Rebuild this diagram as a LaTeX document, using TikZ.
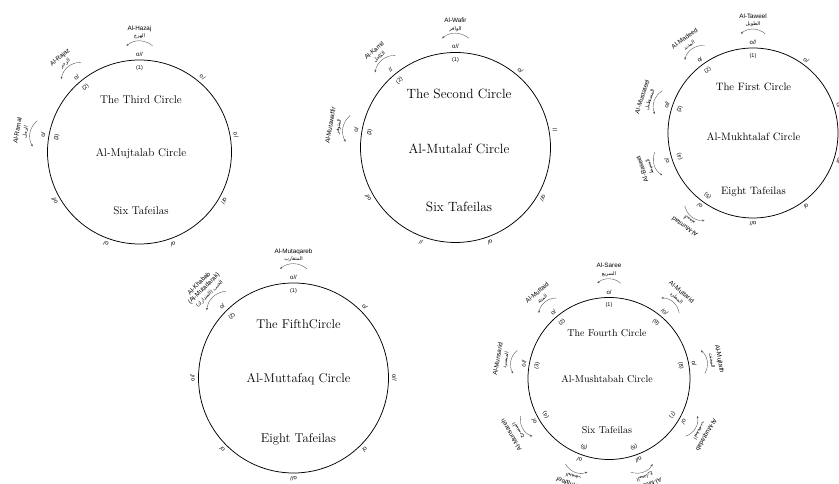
\documentclass[tikz,border=0pt]{standalone}
\usepackage{fontspec}
\newfontfamily\labelfont{Liberation Sans}
\newfontfamily\arabicfont[Script=Arabic]{DejaVu Sans}
\TeXXeTstate=1
\usetikzlibrary{arrows.meta}
\tikzset{>={Stealth[length=2.4pt,width=2pt]}}
\tikzset{
  daira/.style={draw, circle, line width=0.75pt, inner sep=0pt, minimum size=#1},
  title/.style={font=\fontsize{#1}{#1}\selectfont, inner sep=0pt},
  foot/.style={font=\labelfont\fontsize{6}{6}\selectfont, inner sep=0pt},
  num/.style={font=\labelfont\fontsize{5.5}{6}\selectfont, inner sep=0pt},
  bahr/.style={font=\labelfont\fontsize{6.3}{6.8}\selectfont, align=center,
    inner sep=0pt, anchor=south},
  turn/.style={->, draw=black!70, line width=0.35pt},
}
% the marks as they read on the page
\newcommand{\sabab}{o/}
\newcommand{\watad}{o//}
\newcommand{\twomov}{//}
\newcommand{\mafruq}{/o/}
% one meter: circle, radius, angle, number, English, Arabic
\newcommand{\bahrlabel}[6]{%
  \node[num, rotate=#3-90] (#1-n#4) at ({#3}:{#2-8}) {(#4)};
  \draw[turn] ({#3-7}:{#2+15}) to[bend right=40] ({#3+7}:{#2+15});
  \node[bahr, rotate=#3-90] (#1-b#4) at ({#3}:{#2+21})
    {#5\\[0.6pt]{\arabicfont\fontsize{5}{6}\selectfont #6}};%
}

\begin{document}
\begin{tikzpicture}[x=1pt, y=1pt]
  \useasboundingbox (0,0) rectangle (839,484);

  % the third circle
  \node[daira=184pt] (third) at (139.5,332) {};
  \begin{scope}[shift={(third.center)}]
    \foreach \a/\m [count=\i] in {90/\watad, 130/\sabab, 170/\sabab, 210/\watad,
      250/\sabab, 290/\sabab, 330/\watad, 10/\sabab, 50/\sabab}
      \node[foot, rotate=\a-90] (third-f\i) at (\a:98) {\m};
    \bahrlabel{third}{92}{90}{1}{Al-Hazaj}{\beginR الهزج\endR}
    \bahrlabel{third}{92}{130}{2}{Al-Rajaz}{\beginR الرجز\endR}
    \bahrlabel{third}{92}{170}{3}{Al-Ramal}{\beginR الرمل\endR}
    \node[title=11.2] (third-t1) at (1.5,52) {The Third Circle};
    \node[title=11.2] (third-t2) at (1.5,-2) {Al-Mujtalab Circle};
    \node[title=11.2] (third-t3) at (1.5,-59) {Six Tafeilas};
  \end{scope}

  % the second circle
  \node[daira=190pt] (second) at (455.5,336.5) {};
  \begin{scope}[shift={(second.center)}]
    \foreach \a/\m [count=\i] in {90/\watad, 130/\twomov, 170/\sabab, 210/\watad,
      250/\twomov, 290/\sabab, 330/\watad, 10/\twomov, 50/\sabab}
      \node[foot, rotate=\a-90] (second-f\i) at (\a:101) {\m};
    \bahrlabel{second}{95}{90}{1}{Al-Wafir}{\beginR الوافر\endR}
    \bahrlabel{second}{95}{130}{2}{Al-Kamil}{\beginR الكامل\endR}
    \bahrlabel{second}{95}{170}{3}{Al-Mutawaffir}{\beginR المتوفر\endR}
    \node[title=13.4] (second-t1) at (3.5,54) {The Second Circle};
    \node[title=13.4] (second-t2) at (3.5,-1) {Al-Mutalaf Circle};
    \node[title=13.4] (second-t3) at (3.5,-59) {Six Tafeilas};
  \end{scope}

  % the first circle
  \node[daira=170pt] (first) at (753,351) {};
  \begin{scope}[shift={(first.center)}]
    \foreach \a/\m [count=\i] in {90/\watad, 126/\sabab, 162/\watad, 198/\sabab,
      234/\sabab, 270/\watad, 306/\sabab, 342/\watad, 18/\sabab, 54/\sabab}
      \node[foot, rotate=\a-90] (first-f\i) at (\a:90.5) {\m};
    \bahrlabel{first}{85}{90}{1}{Al-Taweel}{\beginR الطويل\endR}
    \bahrlabel{first}{85}{126}{2}{Al-Madeed}{\beginR المديد\endR}
    \bahrlabel{first}{85}{162}{3}{Al-Mustateel}{\beginR المستطيل\endR}
    \bahrlabel{first}{85}{198}{4}{Al-Baseet}{\beginR البسيط\endR}
    \bahrlabel{first}{85}{234}{5}{Al-Mumtad}{\beginR الممتد\endR}
    \node[title=10.7] (first-t1) at (0.5,46) {The First Circle};
    \node[title=10.7] (first-t2) at (0.5,-4) {Al-Mukhtalaf Circle};
    \node[title=10.7] (first-t3) at (0.5,-59) {Eight Tafeilas};
  \end{scope}

  % the fifth circle
  \node[daira=190pt] (fifth) at (293.5,106) {};
  \begin{scope}[shift={(fifth.center)}]
    \foreach \a/\m [count=\i] in {90/\watad, 135/\sabab, 180/\watad, 225/\sabab,
      270/\watad, 315/\sabab, 0/\watad, 45/\sabab}
      \node[foot, rotate=\a-90] (fifth-f\i) at (\a:101) {\m};
    \bahrlabel{fifth}{95}{90}{1}{Al-Mutaqareb}{\beginR المتقارب\endR}
    \bahrlabel{fifth}{95}{135}{2}{Al-Khabab\\(Al-Mutadarak)}{\beginR الخبب (المتدارك)\endR}
    \node[title=12.7] (fifth-t1) at (5,54) {The FifthCircle};
    \node[title=12.7] (fifth-t2) at (5,-1) {Al-Muttafaq Circle};
    \node[title=12.7] (fifth-t3) at (5,-61) {Eight Tafeilas};
  \end{scope}

  % the fourth circle
  \node[daira=162pt] (fourth) at (609,105.5) {};
  \begin{scope}[shift={(fourth.center)}]
    \foreach \a/\m [count=\i] in {90/\sabab, 130/\sabab, 170/\watad, 210/\sabab,
      250/\sabab, 290/\watad, 330/\sabab, 10/\sabab, 50/\mafruq}
      \node[foot, rotate=\a-90] (fourth-f\i) at (\a:86.5) {\m};
    \bahrlabel{fourth}{81}{90}{1}{Al-Saree}{\beginR السريع\endR}
    \bahrlabel{fourth}{81}{130}{2}{Al-Muttaid}{\beginR المتئد\endR}
    \bahrlabel{fourth}{81}{170}{3}{Al-Munsarid}{\beginR المنسرد\endR}
    \bahrlabel{fourth}{81}{210}{4}{Al-Munsareh}{\beginR المنسرح\endR}
    \bahrlabel{fourth}{81}{250}{5}{Al-Khafeef}{\beginR الخفيف\endR}
    \bahrlabel{fourth}{81}{290}{6}{Al-Mudare}{\beginR المضارع\endR}
    \bahrlabel{fourth}{81}{330}{7}{Al-Muqtadab}{\beginR المقتضب\endR}
    \bahrlabel{fourth}{81}{10}{8}{Al-Mujtath}{\beginR المجتث\endR}
    \bahrlabel{fourth}{81}{50}{9}{Al-Muttarid}{\beginR المطرد\endR}
    \node[title=10] (fourth-t1) at (-2,45.5) {The Fourth Circle};
    \node[title=10] (fourth-t2) at (-2,-0.5) {Al-Mushtabah Circle};
    \node[title=10] (fourth-t3) at (-2,-51.5) {Six Tafeilas};
  \end{scope}
\end{tikzpicture}
\end{document}
